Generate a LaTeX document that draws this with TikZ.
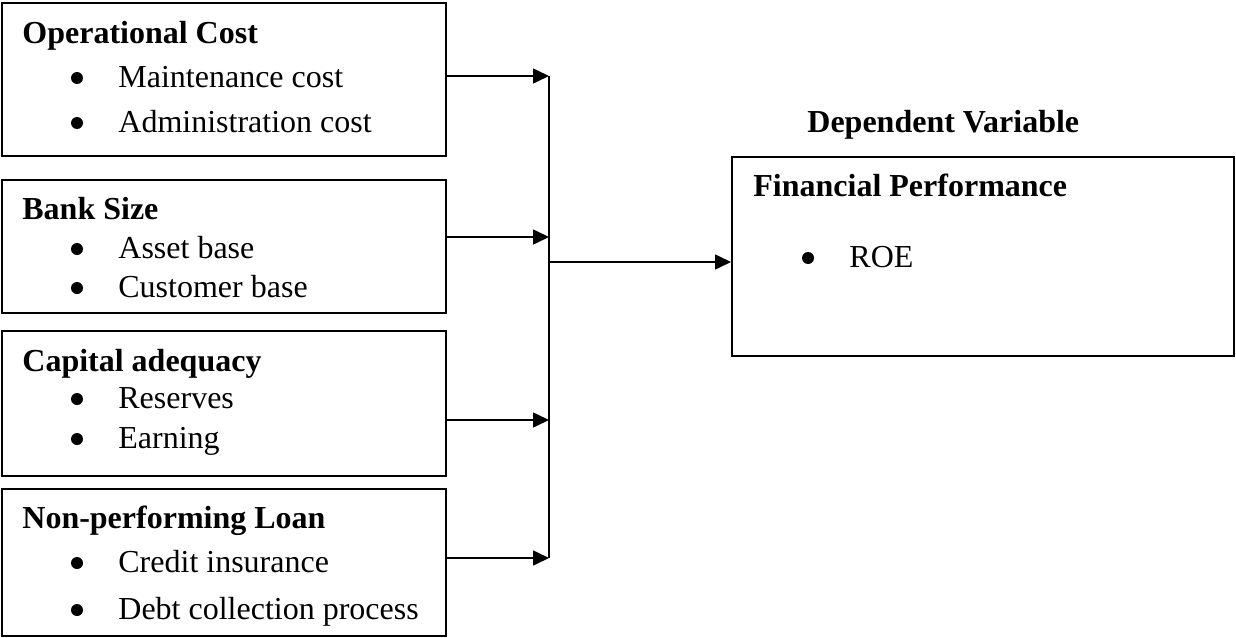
\documentclass[tikz,border=0pt]{standalone}
\usepackage{fontspec}
\setmainfont{Liberation Serif}
\usetikzlibrary{positioning,arrows.meta}

\begin{document}
\begin{tikzpicture}[x=0.5pt,y=-0.5pt,
    every node/.style={font=\fontsize{16}{19}\selectfont, inner sep=0pt},
    varbox/.style={draw, line width=1pt, rectangle, minimum width=222pt},
    head/.style={anchor=base west, font=\fontsize{16}{19}\selectfont\bfseries},
    bul/.style={circle, fill, minimum size=6pt},
    itemtext/.style={anchor=base west},
    arr/.style={-{Triangle[length=8pt,width=7.5pt]}, line width=0.8pt}
    ]
    \useasboundingbox (0,0) rectangle (1236,637);

    % independent variables
    \node[varbox, minimum height=76.5pt](opcost) at (224,79.5) {};
    \node[head](opcosth) at (22,43) {Operational Cost};
    \node[bul](opcostb1) at (77,78) {};
    \node[itemtext](opcosti1) at (118,87) {Maintenance cost};
    \node[bul](opcostb2) at (77,123) {};
    \node[itemtext](opcosti2) at (118,132) {Administration cost};

    \node[varbox, minimum height=66.5pt](size) at (224,246.5) {};
    \node[head](sizeh) at (22,219) {Bank Size};
    \node[bul](sizeb1) at (77,249) {};
    \node[itemtext](sizei1) at (118,258) {Asset base};
    \node[bul](sizeb2) at (77,288) {};
    \node[itemtext](sizei2) at (118,297) {Customer base};

    \node[varbox, minimum height=72.5pt](capital) at (224,403.5) {};
    \node[head](capitalh) at (22,371) {Capital adequacy};
    \node[bul](capitalb1) at (77,399) {};
    \node[itemtext](capitali1) at (118,408) {Reserves};
    \node[bul](capitalb2) at (77,439) {};
    \node[itemtext](capitali2) at (118,448) {Earning};

    \node[varbox, minimum height=73.5pt](loan) at (224,562.5) {};
    \node[head](loanh) at (22,528) {Non-performing Loan};
    \node[bul](loanb1) at (77,563) {};
    \node[itemtext](loani1) at (118,572) {Credit insurance};
    \node[bul](loanb2) at (77,610) {};
    \node[itemtext](loani2) at (118,619) {Debt collection process};

    % dependent variable
    \node[head](deplabel) at (807,132) {Dependent Variable};
    \node[varbox, minimum width=251pt, minimum height=99.5pt](perf) at (983,256.5) {};
    \node[head](perfh) at (753,196) {Financial Performance};
    \node[bul](perfb1) at (808,258) {};
    \node[itemtext](perfi1) at (849,267) {ROE};

    \coordinate (j1) at (549,76);
    \coordinate (j2) at (549,237);
    \coordinate (j3) at (549,420);
    \coordinate (j4) at (549,558);
    \coordinate (jm) at (549,262);

    \draw[arr] (opcost.east |- j1) -- (j1);
    \draw[arr] (size.east |- j2) -- (j2);
    \draw[arr] (capital.east |- j3) -- (j3);
    \draw[arr] (loan.east |- j4) -- (j4);
    \draw[line width=1pt] (j1) -- (j4);
    \draw[arr] (jm) -- (perf.west |- jm);
\end{tikzpicture}
\end{document}
